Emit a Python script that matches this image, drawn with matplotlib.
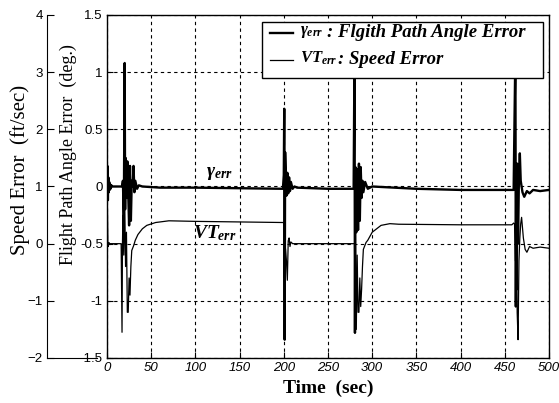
import matplotlib
matplotlib.use("Agg")
import matplotlib.pyplot as plt
from matplotlib.patches import Rectangle
from matplotlib.lines import Line2D

plt.rcParams['mathtext.fontset'] = 'custom'
plt.rcParams['mathtext.rm'] = 'Liberation Serif:bold'
plt.rcParams['mathtext.it'] = 'Liberation Serif:italic:bold'
plt.rcParams['mathtext.bf'] = 'Liberation Serif:bold'

# ---------------- data ----------------
# Flight path angle error (deg)
gamma_t = [0, 0.5, 1, 1.5, 2, 2.5, 3, 3.5, 4, 5, 6, 8, 15, 17, 18, 19, 20, 20.5,
           21, 22, 23, 24, 25, 26, 27, 28, 29, 30, 31, 32, 34, 36, 40, 60, 100,
           150, 199, 200, 200.5, 201, 201.5, 202, 203, 204, 205, 206, 207, 208,
           210, 212, 215, 250, 279, 280, 280.5, 281, 282, 283, 284, 285, 286,
           287, 288, 289, 290, 292, 295, 300, 350, 400, 460, 462, 462.5, 463,
           463.5, 464, 465, 466, 467, 468, 470, 472, 475, 478, 482, 490, 500]
gamma_v = [0.0, 0.18, -0.12, 0.08, -0.05, 0.04, -0.03, 0.02, -0.02, 0.01, 0.0,
           0.0, 0.0, 0.0, 0.05, -0.3, 1.08, -0.2, 0.25, -0.1, 0.22, -0.05,
           -0.34, 0.18, -0.3, 0.05, 0.0, 0.18, -0.05, 0.05, -0.02, 0.01, 0.0,
           -0.01, -0.01, -0.015, -0.02, 0.1, 0.68, -1.34, 0.3, 0.16, -0.08,
           0.12, -0.06, 0.08, -0.04, 0.04, -0.02, 0.0, -0.01, -0.02, -0.02,
           1.2, -1.28, 0.17, -0.4, 0.15, -0.38, 0.2, -0.3, 0.17, -0.1, 0.05,
           -0.05, 0.04, -0.02, 0.0, -0.02, -0.03, -0.03, 1.2, -1.05, 0.15,
           -0.9, 0.2, -0.5, 0.1, 0.29, 0.05, -0.05, -0.09, -0.04, -0.06,
           -0.03, -0.04, -0.03]

# Speed error (ft/sec)
vt_t = [0, 0.5, 1, 1.5, 2, 3, 16, 17, 17.5, 18, 19, 20, 21, 22, 23, 24, 25, 26,
        27, 28, 30, 32, 35, 37, 40, 45, 49, 55, 60, 70, 100, 150, 199, 200,
        200.5, 201, 202, 203, 204, 205, 206, 207, 208, 210, 280, 280.5, 281,
        282, 283, 284, 285, 286, 287, 288, 289, 290, 291, 293, 295, 300, 305,
        310, 320, 330, 400, 458, 460, 461, 462, 463, 464, 465, 466, 467, 468,
        469, 471, 473, 475, 478, 482, 490, 500]
vt_v = [0.9, 0.6, 0.0, -0.05, 0.02, 0.0, 0.0, -1.55, 0.0, 0.5, -0.2, 0.8,
        -0.4, 0.2, -1.2, -1.2, -0.6, -0.9, -0.4, -0.12, -0.04, 0.06, 0.16,
        0.2, 0.26, 0.32, 0.34, 0.37, 0.38, 0.4, 0.39, 0.38, 0.37, 0.37, -0.6,
        0.0, -0.1, -0.3, -0.64, 0.05, 0.1, -0.05, 0.03, 0.0, 0.0, -1.0, 0.3,
        -1.5, -0.2, -1.2, -1.2, -0.6, -1.1, -0.8, -0.4, -0.1, -0.06, 0.02,
        0.06, 0.2, 0.26, 0.32, 0.35, 0.34, 0.33, 0.33, 0.36, 0.35, -0.3, 0.8,
        -1.2, -1.68, -0.3, 0.1, 0.35, 0.46, 0.1, -0.1, -0.15, -0.05, -0.08,
        -0.06, -0.08]

time_ticks = [0, 50, 100, 150, 200, 250, 300, 350, 400, 450, 500]
angle_ticks = [-1.5, -1, -0.5, 0, 0.5, 1, 1.5]
angle_labels = ['-1.5', '-1', '-0.5', '0', '0.5', '1', '1.5']
speed_ticks = [-2, -1, 0, 1, 2, 3, 4]

legend_title_gamma = ': Flgith Path Angle Error'
legend_title_vt = ': Speed Error'

# ---------------- figure ----------------
W, H = 559, 403
fig = plt.figure(figsize=(W / 100, H / 100), dpi=100)

ax_l, ax_r, ax_t, ax_b = 107, 549, 15, 358
AW, AH = ax_r - ax_l, ax_b - ax_t
ax = fig.add_axes([ax_l / W, 1 - ax_b / H, AW / W, AH / H])
ax.set_xlim(0, 500)
ax.set_ylim(-1.5, 1.5)
ax.set_xticks(time_ticks)
ax.set_yticks(angle_ticks)
ax.set_yticklabels(angle_labels)
ax.grid(True, color='black', linestyle=(0, (3, 3)), linewidth=0.8)
ax.tick_params(direction='in', length=4, width=0.8, labelsize=9.5, pad=3)
for lab in ax.get_xticklabels():
    lab.set_fontfamily('Liberation Sans')
    lab.set_fontstyle('italic')
for lab in ax.get_yticklabels():
    lab.set_fontfamily('Liberation Sans')
for s in ax.spines.values():
    s.set_linewidth(1.0)

ax.plot(gamma_t, gamma_v, color='black', linewidth=1.7, zorder=3)

ax.set_xlabel('Time  (sec)', fontfamily='Liberation Serif', fontsize=14,
              fontweight='bold', labelpad=4)
ax.set_ylabel('Flight Path Angle Error  (deg.)', fontfamily='Liberation Serif',
              fontsize=13, labelpad=2)
ax.yaxis.label.set_y((ax_b - 155) / AH)

# twin axes for speed error line
ax2 = ax.twinx()
ax2.set_ylim(-2, 4)
ax2.set_xlim(0, 500)
ax2.set_axis_off()
ax2.plot(vt_t, vt_v, color='black', linewidth=0.9, zorder=3)

# annotations
ax.text(127, 0.12, r'$\gamma_{err}$', fontsize=14, ha='center', va='center')
ax.text(122, -0.41, r'$VT_{err}$', fontsize=14, ha='center', va='center')

# legend (manual, to align colons)
def fx(px):
    return (px - ax_l) / AW

def fy(py):
    return (ax_b - py) / AH

ax2.add_patch(Rectangle((fx(262), fy(78)), fx(543) - fx(262), fy(22) - fy(78),
                        transform=ax2.transAxes, facecolor='white',
                        edgecolor='black', linewidth=1.0, zorder=10,
                        clip_on=False))
r1, r2 = fy(33), fy(60)
ax2.add_line(Line2D([fx(270), fx(293)], [r1, r1], transform=ax2.transAxes,
                    color='black', linewidth=1.7, zorder=11))
ax2.add_line(Line2D([fx(270), fx(293)], [r2, r2], transform=ax2.transAxes,
                    color='black', linewidth=0.9, zorder=11))
ax2.text(fx(300), r1 + 0.005, r'$\gamma_{err}$', transform=ax2.transAxes,
         fontsize=12, ha='left', va='center', zorder=12)
ax2.text(fx(300), r2 + 0.005, r'$VT_{err}$', transform=ax2.transAxes,
         fontsize=12, ha='left', va='center', zorder=12)
ax2.text(fx(327), r1, legend_title_gamma, transform=ax2.transAxes, fontsize=13.5,
         fontfamily='Liberation Serif', fontstyle='italic', fontweight='bold',
         ha='left', va='center', zorder=12)
ax2.text(fx(338), r2, legend_title_vt, transform=ax2.transAxes, fontsize=13.5,
         fontfamily='Liberation Serif', fontstyle='italic', fontweight='bold',
         ha='left', va='center', zorder=12)

# separate speed axis on the far left
sp_l, sp_r = 47, 97
axs = fig.add_axes([sp_l / W, 1 - ax_b / H, (sp_r - sp_l) / W, AH / H])
axs.set_ylim(-2, 4)
axs.set_yticks(speed_ticks)
axs.set_xticks([])
axs.patch.set_alpha(0)
axs.spines['top'].set_visible(False)
axs.spines['right'].set_visible(False)
axs.tick_params(axis='y', direction='in', length=5, width=0.8, labelsize=9.5, pad=3)
for lab in axs.get_yticklabels():
    lab.set_fontfamily('Liberation Sans')
axs.set_ylabel('Speed Error  (ft/sec)', fontfamily='Liberation Serif',
               fontsize=15, labelpad=-2)
axs.yaxis.label.set_y((ax_b - 170) / AH)

fig.savefig('out.png', dpi=100)
